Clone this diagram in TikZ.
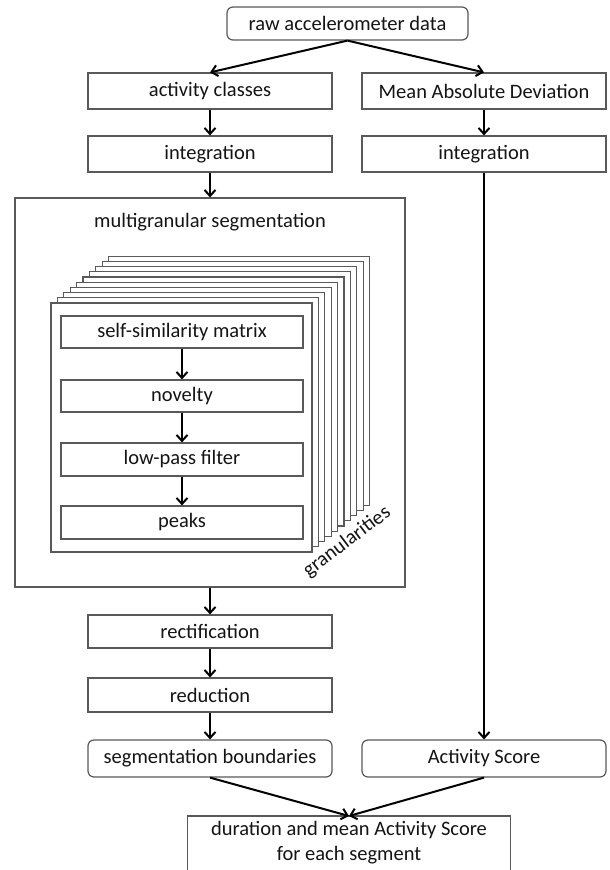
\documentclass[tikz,border=0pt]{standalone}
\usepackage{fontspec}
\setmainfont{Carlito}
\usetikzlibrary{arrows.meta}
\definecolor{boxgray}{gray}{0.35}
\definecolor{txt}{gray}{0.08}
\begin{document}
\begin{tikzpicture}[x=1pt,y=-1pt,
  every node/.style={font=\fontsize{20.5}{25}\selectfont, text=txt},
  box/.style={draw=boxgray, line width=1.2pt, fill=white, inner sep=0pt, minimum width=244pt, minimum height=36pt},
  rbox/.style={box, rounded corners=6pt},
  page/.style={draw=boxgray, line width=1.1pt, fill=white},
  arr/.style={-{Straight Barb[length=6pt,width=11pt]}, line width=2pt, black}]
\useasboundingbox (0,0) rectangle (610,870);

% top
\node[rbox, minimum width=241pt, minimum height=33pt] (raw) at (347.5,23.5) {raw accelerometer data};
\node[box] (act) at (210,91) {activity classes};
\node[box] (mad) at (484,91) {Mean Absolute Deviation};
\node[box] (int1) at (210,154) {integration};
\node[box] (int2) at (484,154) {integration};

% outer segmentation box
\node[draw=boxgray, line width=1.2pt, minimum width=390pt, minimum height=389pt, inner sep=0pt] (outer) at (210,392.5) {};
\node (title) at (210,222) {multigranular segmentation};

% stacked pages
\foreach \k in {9,8,...,1} {
  \path[page] (51+6.4*\k, 303-5.2*\k) rectangle (312+6.4*\k, 552-5.2*\k);
}
\node[page, minimum width=261pt, minimum height=249pt, inner sep=0pt] (front) at (181.5,427.5) {};

\node[box, minimum width=242pt, minimum height=32pt] (ssm) at (182,332) {self-similarity matrix};
\node[box, minimum width=242pt, minimum height=32pt] (nov) at (182,396) {novelty};
\node[box, minimum width=242pt, minimum height=33pt] (lp) at (182,459.5) {low-pass filter};
\node[box, minimum width=242pt, minimum height=33pt] (pk) at (182,522.5) {peaks};
\node[rotate=37] (gran) at (347,542) {granularities};

% lower left chain
\node[box, minimum height=33pt] (rect) at (210,631.5) {rectification};
\node[box, minimum height=34pt] (red) at (210,695) {reduction};
\node[rbox, minimum height=37pt] (seg) at (210,758.5) {segmentation boundaries};
\node[rbox, minimum height=37pt] (as) at (484,758.5) {Activity Score};

% final
\node[inner sep=0pt, minimum width=322pt, minimum height=53pt, anchor=north, align=center] (final) at (349,816) {duration and mean Activity Score\\for each segment};
\draw[draw=boxgray, line width=1.2pt] ([yshift=-20pt]final.south west) -- (final.north west) -- (final.north east) -- ([yshift=-20pt]final.south east);

% connectors
\draw[arr] (raw.south) -- (act.north);
\draw[arr] (raw.south) -- (mad.north);
\draw[arr] (act) -- (int1);
\draw[arr] (mad) -- (int2);
\draw[arr] (int1.south) -- (outer.north);
\draw[arr] (int2.south) -- (as.north);
\draw[arr] (ssm) -- (nov);
\draw[arr] (nov) -- (lp);
\draw[arr] (lp) -- (pk);
\draw[arr] (outer.south) -- (rect.north);
\draw[arr] (rect) -- (red);
\draw[arr] (red) -- (seg);
\draw[arr] (seg.south) -- (final.north);
\draw[arr] (as.south) -- (final.north);
\end{tikzpicture}
\end{document}
